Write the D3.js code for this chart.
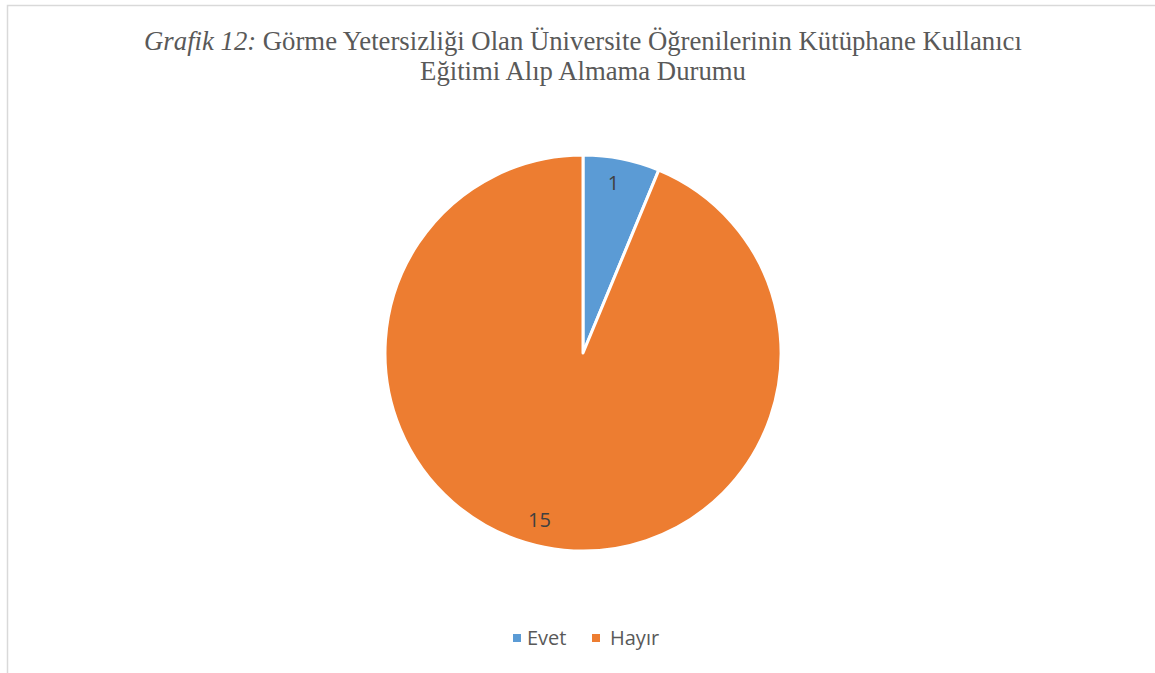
<!DOCTYPE html>
<html>
<head>
  <meta charset="utf-8">
  <title>Grafik 12</title>
  <script src="https://d3js.org/d3.v7.min.js"></script>
  <style>
    body {
      margin: 0;
      background: #fff;
    }
  </style>
</head>
<body>
  <div id="chart"></div>

  <script>
    // data
    const categories = ["Evet", "Hayır"];
    const values = [1, 15];
    const colors = ["#5B9BD5", "#ED7D31"];

    const width = 1155, height = 673;
    const cx = 583, cy = 353, radius = 198;

    const serif = "'Liberation Serif', 'Times New Roman', Times, serif";
    const sans = "'Open Sans', 'Liberation Sans', sans-serif";

    const svg = d3.select("#chart")
      .append("svg")
      .attr("width", width)
      .attr("height", height);

    // chart frame (only top and left edges are visible in the picture)
    svg.append("rect")
      .attr("x", 7.5)
      .attr("y", 5.5)
      .attr("width", width + 20)
      .attr("height", height + 20)
      .attr("fill", "none")
      .attr("stroke", "#d9d9d9")
      .attr("stroke-width", 1.5);

    // title
    const title = svg.append("text")
      .attr("text-anchor", "middle")
      .attr("font-family", serif)
      .attr("font-size", 21)
      .attr("fill", "#595959");

    const line1 = title.append("tspan")
      .attr("x", cx)
      .attr("y", 50);
    line1.append("tspan")
      .attr("font-style", "italic")
      .text("Grafik 12:");
    line1.append("tspan")
      .text(" Görme Yetersizliği Olan Üniversite Öğrenilerinin Kütüphane Kullanıcı");

    title.append("tspan")
      .attr("x", cx)
      .attr("y", 80)
      .text("Eğitimi Alıp Almama Durumu");

    // fit the first title line to the width it has in the original (~878px)
    const w1 = line1.node().getComputedTextLength();
    if (w1 > 0) title.attr("font-size", 21 * 878 / w1);

    // pie
    const data = categories.map((c, i) => ({ name: c, value: values[i], color: colors[i] }));

    const pie = d3.pie()
      .value(d => d.value)
      .sort(null);

    const arc = d3.arc()
      .innerRadius(0)
      .outerRadius(radius);

    const labelArc = d3.arc()
      .innerRadius(172)
      .outerRadius(172);

    const g = svg.append("g")
      .attr("transform", `translate(${cx},${cy})`);

    const arcs = pie(data);

    g.selectAll("path")
      .data(arcs)
      .enter()
      .append("path")
      .attr("d", arc)
      .attr("fill", d => d.data.color)
      .attr("stroke", "#fff")
      .attr("stroke-width", 3)
      .attr("stroke-linejoin", "round");

    // small nudges so labels sit where Excel put them
    const nudge = [[-3, -2], [-10, -2]];

    g.selectAll(".slice-label")
      .data(arcs)
      .enter()
      .append("text")
      .attr("class", "slice-label")
      .attr("text-anchor", "middle")
      .attr("dy", "0.36em")
      .attr("transform", (d, i) => {
        const [x, y] = labelArc.centroid(d);
        return `translate(${x + nudge[i][0]},${y + nudge[i][1]})`;
      })
      .attr("font-family", sans)
      .attr("font-size", 20)
      .attr("fill", "#404040")
      .text(d => d.data.value);

    // legend
    const legendItems = [
      { x: 513, name: categories[0], color: colors[0] },
      { x: 592, name: categories[1], color: colors[1] }
    ];

    const legend = svg.append("g");
    const item = legend.selectAll("g")
      .data(legendItems)
      .enter()
      .append("g")
      .attr("transform", d => `translate(${d.x},634)`);

    item.append("rect")
      .attr("width", 8)
      .attr("height", 8)
      .attr("fill", d => d.color);

    item.append("text")
      .attr("x", (d, i) => i === 0 ? 14 : 18)
      .attr("y", 11)
      .attr("font-family", sans)
      .attr("font-size", 20)
      .attr("fill", "#595959")
      .text(d => d.name);
  </script>
</body>
</html>
